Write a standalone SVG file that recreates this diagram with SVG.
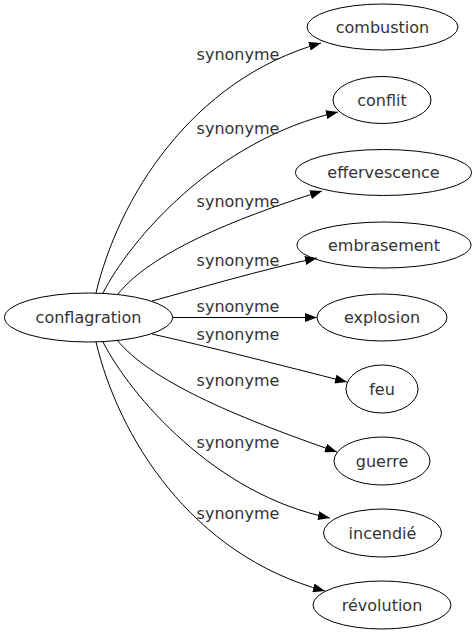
<svg xmlns="http://www.w3.org/2000/svg" width="473" height="635" viewBox="0 0 473 635">
<style>
.n ellipse{fill:none;stroke:#000;stroke-width:1}
text{font-family:"DejaVu Sans",sans-serif;font-size:16px;fill:#333;text-anchor:middle}
.e path{fill:none;stroke:#000;stroke-width:1}
</style>
<defs>
<marker id="a" markerUnits="userSpaceOnUse" markerWidth="12" markerHeight="9" refX="12" refY="4.5" orient="auto" viewBox="0 0 12 9">
<path d="M0,0 L12,4.5 L0,9 z" fill="#000"/>
</marker>
</defs>
<rect width="473" height="635" fill="#fff"/>
<g class="e" id="edges">
<path marker-end="url(#a)" d="M96,293 C118,200 190,80 321,43"/>
<path marker-end="url(#a)" d="M103,293 C130,240 215,140 338,112"/>
<path marker-end="url(#a)" d="M118,294 C150,254 230,220 322,191"/>
<path marker-end="url(#a)" d="M152,301 C200,288 260,270 317,258"/>
<path marker-end="url(#a)" d="M173,317.5 L317,317.5"/>
<path marker-end="url(#a)" d="M152,334 C210,347 280,365 347,382"/>
<path marker-end="url(#a)" d="M117,340 C150,380 230,415 337,452"/>
<path marker-end="url(#a)" d="M103,342 C130,395 215,495 330,518"/>
<path marker-end="url(#a)" d="M96,342 C118,435 190,555 325,591"/>
<text x="238" y="60">synonyme</text>
<text x="238" y="134">synonyme</text>
<text x="238" y="207">synonyme</text>
<text x="238" y="266">synonyme</text>
<text x="238" y="312">synonyme</text>
<text x="238" y="340">synonyme</text>
<text x="238" y="386">synonyme</text>
<text x="238" y="448">synonyme</text>
<text x="238" y="519">synonyme</text>
</g>
<g class="n" id="conflagration"><ellipse cx="88.5" cy="317.5" rx="84" ry="24.5"/><text x="88.5" y="323">conflagration</text></g>
<g class="n" id="combustion"><ellipse cx="382.5" cy="27" rx="75.5" ry="23"/><text x="382.5" y="32.5">combustion</text></g>
<g class="n" id="conflit"><ellipse cx="382" cy="100" rx="49" ry="23.5"/><text x="382" y="105.5">conflit</text></g>
<g class="n" id="effervescence"><ellipse cx="383.5" cy="172.5" rx="88" ry="23"/><text x="383.5" y="178">effervescence</text></g>
<g class="n" id="embrasement"><ellipse cx="384" cy="245" rx="87" ry="23"/><text x="384" y="250.5">embrasement</text></g>
<g class="n" id="explosion"><ellipse cx="382" cy="317.5" rx="65" ry="23.5"/><text x="382" y="323">explosion</text></g>
<g class="n" id="feu"><ellipse cx="382" cy="389" rx="36" ry="24"/><text x="382" y="394.5">feu</text></g>
<g class="n" id="guerre"><ellipse cx="382" cy="461" rx="48" ry="24"/><text x="382" y="466.5">guerre</text></g>
<g class="n" id="incendie"><ellipse cx="382.5" cy="533" rx="59" ry="24"/><text x="382.5" y="538.5">incendié</text></g>
<g class="n" id="revolution"><ellipse cx="382" cy="605" rx="69" ry="24"/><text x="382" y="610.5">révolution</text></g>
</svg>
